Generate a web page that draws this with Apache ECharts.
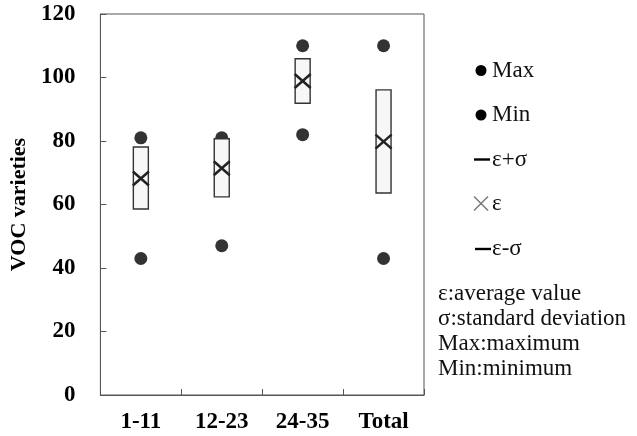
<!DOCTYPE html>
<html>
<head>
<meta charset="utf-8">
<script src="https://cdn.jsdelivr.net/npm/echarts@6/dist/echarts.min.js"></script>
<style>html,body{margin:0;padding:0;background:#fff;}#c{width:637px;height:436px;}</style>
</head>
<body>
<div id="c"></div>
<script>
const categories = ['1-11', '12-23', '24-35', 'Total'];
const maxVals = [81, 81, 110, 110];
const minVals = [43, 47, 82, 43];
const upperVals = [78.1, 80.7, 105.9, 96.1];
const lowerVals = [58.6, 62.4, 91.9, 63.6];
const meanVals = [68.2, 71.4, 98.9, 79.8];
const legendNames = ['Max', 'Min', 'ε+σ', 'ε', 'ε-σ'];
const noteLines = ['ε:average value', 'σ:standard deviation', 'Max:maximum', 'Min:minimum'];

const serif = 'Liberation Serif';
const chart = echarts.init(document.getElementById('c'), null, {renderer: 'canvas'});

const boxData = categories.map((c, i) => [i, upperVals[i], lowerVals[i], meanVals[i]]);

const graphics = [];
// legend
const lx = 481, tx = 492;
const ly = [70.5, 115, 159.5, 203.5, 249];
graphics.push({type: 'circle', shape: {cx: lx, cy: ly[0], r: 5.5}, style: {fill: '#000'}});
graphics.push({type: 'circle', shape: {cx: lx, cy: ly[1], r: 5.5}, style: {fill: '#000'}});
graphics.push({type: 'line', shape: {x1: 474, y1: ly[2], x2: 490, y2: ly[2]}, style: {stroke: '#000', lineWidth: 2.4}});
graphics.push({type: 'line', shape: {x1: 474, y1: ly[3] - 7, x2: 488, y2: ly[3] + 7}, style: {stroke: '#777', lineWidth: 1.4}});
graphics.push({type: 'line', shape: {x1: 474, y1: ly[3] + 7, x2: 488, y2: ly[3] - 7}, style: {stroke: '#777', lineWidth: 1.4}});
graphics.push({type: 'line', shape: {x1: 475, y1: ly[4], x2: 491, y2: ly[4]}, style: {stroke: '#000', lineWidth: 2.4}});
legendNames.forEach((n, i) => {
  graphics.push({type: 'text', x: tx, y: ly[i], style: {text: n, fill: '#111', font: '23px "' + serif + '"', textVerticalAlign: 'middle', textAlign: 'left'}});
});
noteLines.forEach((t, i) => {
  graphics.push({type: 'text', x: 438, y: 294 + i * 25, style: {text: t, fill: '#111', font: '23px "' + serif + '"', textVerticalAlign: 'middle', textAlign: 'left'}});
});

chart.setOption({
  animation: false,
  backgroundColor: '#fff',
  grid: {left: 97.7, right: 213, top: 14, bottom: 41, show: true, borderColor: '#555', borderWidth: 1, backgroundColor: 'transparent'},
  xAxis: {
    type: 'category',
    data: categories,
    axisLine: {lineStyle: {color: '#555', width: 1}},
    axisTick: {show: true, inside: true, length: 6, lineStyle: {color: '#555'}},
    axisLabel: {fontFamily: serif, fontWeight: 'bold', fontSize: 23, color: '#000', margin: 16},
    splitLine: {show: false}
  },
  yAxis: {
    type: 'value',
    min: 0, max: 120, interval: 20,
    name: 'VOC varieties',
    nameLocation: 'middle',
    nameRotate: 90,
    nameGap: 70,
    nameTextStyle: {fontFamily: serif, fontWeight: 'bold', fontSize: 22, color: '#000'},
    axisLine: {show: true, lineStyle: {color: '#555', width: 1}},
    axisTick: {show: true, inside: true, length: 6, lineStyle: {color: '#555'}},
    axisLabel: {fontFamily: serif, fontWeight: 'bold', fontSize: 23, color: '#000', margin: 25},
    splitLine: {show: false}
  },
  series: [
    {name: 'Max', type: 'scatter', data: maxVals, symbol: 'circle', symbolSize: 13, itemStyle: {color: '#000'}, z: 2},
    {name: 'Min', type: 'scatter', data: minVals, symbol: 'circle', symbolSize: 13, itemStyle: {color: '#000'}, z: 2},
    {
      name: 'box', type: 'custom', z: 3,
      data: boxData,
      encode: {x: 0, y: [1, 2, 3]},
      renderItem: function (params, api) {
        const x = api.value(0);
        const up = api.coord([x, api.value(1)]);
        const lo = api.coord([x, api.value(2)]);
        const m = api.coord([x, api.value(3)]);
        const w = 15, hx = 8, hy = 7;
        return {
          type: 'group',
          children: [
            {type: 'rect', shape: {x: up[0] - w / 2, y: up[1], width: w, height: lo[1] - up[1]}, style: {fill: '#f7f7f7', stroke: '#333', lineWidth: 1.4}},
            {type: 'line', shape: {x1: m[0] - hx, y1: m[1] - hy, x2: m[0] + hx, y2: m[1] + hy}, style: {stroke: '#222', lineWidth: 2.5}},
            {type: 'line', shape: {x1: m[0] - hx, y1: m[1] + hy, x2: m[0] + hx, y2: m[1] - hy}, style: {stroke: '#222', lineWidth: 2.5}}
          ]
        };
      }
    }
  ],
  graphic: graphics
});
</script>
</body>
</html>
